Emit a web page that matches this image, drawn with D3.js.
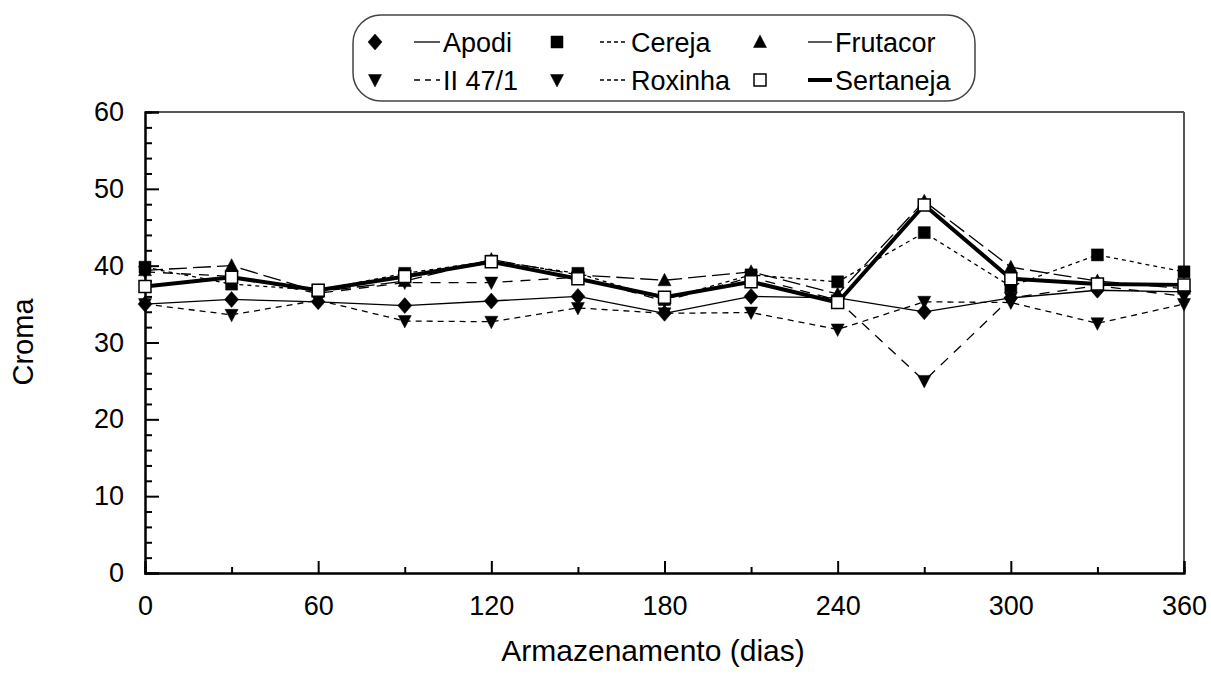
<!DOCTYPE html>
<html>
<head>
<meta charset="utf-8">
<script src="https://cdn.jsdelivr.net/npm/d3@7"></script>
<style>
  html, body { margin: 0; padding: 0; background: #fff; }
  svg { display: block; }
  text { font-family: "Liberation Sans", Arial, sans-serif; fill: #000; }
</style>
</head>
<body>
<svg id="chart" width="1211" height="675"></svg>
<script>
// Storage time (days)
const days = [0, 30, 60, 90, 120, 150, 180, 210, 240, 270, 300, 330, 360];

// Chroma per cultivar
const apodi     = [35.0, 35.6, 35.3, 34.8, 35.4, 36.0, 33.8, 36.0, 35.8, 34.0, 35.8, 36.8, 36.6];
const cereja    = [39.8, 37.6, 36.8, 39.0, 40.6, 39.0, 35.6, 38.8, 37.9, 44.3, 37.3, 41.4, 39.2];
const frutacor  = [39.4, 40.0, 36.6, 38.0, 40.8, 38.8, 38.1, 39.2, 36.3, 48.4, 39.8, 38.0, 37.0];
const ii471     = [39.2, 38.6, 36.4, 37.8, 37.8, 38.5, 35.4, 38.5, 35.5, 25.0, 35.8, 37.4, 36.0];
const roxinha   = [35.0, 33.6, 35.5, 32.8, 32.7, 34.5, 33.8, 33.9, 31.7, 35.3, 35.2, 32.5, 35.0];
const sertaneja = [37.3, 38.5, 36.8, 38.6, 40.5, 38.3, 35.9, 37.9, 35.2, 47.9, 38.3, 37.6, 37.5];

const seriesNames = ["Apodi", "Cereja", "Frutacor", "II 47/1", "Roxinha", "Sertaneja"];
const seriesValues = [apodi, cereja, frutacor, ii471, roxinha, sertaneja];

// Axis ticks
const yMajorTicks = [0, 10, 20, 30, 40, 50, 60];
const yMinorTicks = d3.range(0, 61, 2).filter(v => v % 10 !== 0);
const xMajorTicks = [0, 60, 120, 180, 240, 300, 360];
const xMinorTicks = [30, 90, 150, 210, 270, 330];

// Line / marker style per series
const styles = {
  "Apodi":     { dash: null,    legendDash: null,  width: 1.3, marker: "diamond", fill: "#000" },
  "Cereja":    { dash: "4,4",   legendDash: "4,3", width: 1.3, marker: "square",  fill: "#000" },
  "Frutacor":  { dash: "18,6",  legendDash: null,  width: 1.3, marker: "triUp",   fill: "#000" },
  "II 47/1":   { dash: "10,8",  legendDash: "6,5", width: 1.3, marker: "triDown", fill: "#000" },
  "Roxinha":   { dash: "6,5",   legendDash: "4,3", width: 1.3, marker: "triDown", fill: "#000" },
  "Sertaneja": { dash: null,    legendDash: null,  width: 4,   marker: "square",  fill: "#fff", open: true }
};

const svg = d3.select("#chart");
const plotLeft = 145, plotRight = 1184, plotTop = 112, plotBottom = 573;

const x = d3.scaleLinear().domain([0, 360]).range([plotLeft, plotRight]);
const y = d3.scaleLinear().domain([0, 60]).range([plotBottom, plotTop]);

// Frame (top and right edges)
svg.append("line").attr("x1", plotLeft).attr("x2", plotRight).attr("y1", plotTop).attr("y2", plotTop)
  .attr("stroke", "#555").attr("stroke-width", 2);
svg.append("line").attr("x1", plotRight).attr("x2", plotRight).attr("y1", plotTop).attr("y2", plotBottom)
  .attr("stroke", "#555").attr("stroke-width", 2);

// Axes with inward ticks
const yAxisMajor = d3.axisLeft(y).tickValues(yMajorTicks).tickSize(-14).tickPadding(21);
const yAxisMinor = d3.axisLeft(y).tickValues(yMinorTicks).tickSize(-7).tickFormat("");
const xAxisMajor = d3.axisBottom(x).tickValues(xMajorTicks).tickSize(-12).tickPadding(23);
const xAxisMinor = d3.axisBottom(x).tickValues(xMinorTicks).tickSize(-6).tickFormat("");

function styleAxis(g) {
  g.selectAll("path").attr("stroke", "#000").attr("stroke-width", 2);
  g.selectAll("line").attr("stroke", "#000").attr("stroke-width", 2);
  g.selectAll("text").attr("font-size", 27).attr("font-family", "Liberation Sans, Arial, sans-serif").attr("fill", "#000");
}

svg.append("g").attr("transform", `translate(${plotLeft},0)`).call(yAxisMinor).call(styleAxis);
svg.append("g").attr("transform", `translate(${plotLeft},0)`).call(yAxisMajor).call(styleAxis);
svg.append("g").attr("transform", `translate(0,${plotBottom})`).call(xAxisMinor).call(styleAxis);
svg.append("g").attr("transform", `translate(0,${plotBottom})`).call(xAxisMajor).call(styleAxis);

// Axis titles
svg.append("text")
  .attr("x", 653).attr("y", 661)
  .attr("text-anchor", "middle").attr("font-size", 30)
  .text("Armazenamento (dias)");
svg.append("text")
  .attr("transform", "translate(33,342) rotate(-90)")
  .attr("text-anchor", "middle").attr("font-size", 29)
  .text("Croma");

// Marker shapes
function markerPath(type) {
  switch (type) {
    case "diamond": return "M0,-8L7,0L0,8L-7,0Z";
    case "square":  return "M-6,-6L6,-6L6,6L-6,6Z";
    case "triUp":   return "M0,-7L6.5,5.5L-6.5,5.5Z";
    case "triDown": return "M0,7L6.5,-5.5L-6.5,-5.5Z";
  }
}

const line = d3.line().x((d, i) => x(days[i])).y(d => y(d));

// Lines
seriesNames.forEach((name, k) => {
  const s = styles[name];
  svg.append("path")
    .datum(seriesValues[k])
    .attr("d", line)
    .attr("fill", "none")
    .attr("stroke", "#000")
    .attr("stroke-width", s.width)
    .attr("stroke-dasharray", s.dash)
    .attr("stroke-linejoin", "miter");
});

// Markers
seriesNames.forEach((name, k) => {
  const s = styles[name];
  svg.append("g").selectAll("path")
    .data(seriesValues[k])
    .join("path")
    .attr("transform", (d, i) => `translate(${x(days[i])},${y(d)})`)
    .attr("d", markerPath(s.marker))
    .attr("fill", s.fill)
    .attr("stroke", "#000")
    .attr("stroke-width", s.open ? 1.5 : 0.5);
});

// Legend
const legend = svg.append("g");
legend.append("rect")
  .attr("x", 353).attr("y", 15).attr("width", 622).attr("height", 86)
  .attr("rx", 28).attr("ry", 28)
  .attr("fill", "#fff").attr("stroke", "#444").attr("stroke-width", 1.5);

const colSym = [375, 557, 760];
const colLine = [[414, 440], [600, 628], [808, 832]];
const rowY = [42, 80];

seriesNames.forEach((name, k) => {
  const s = styles[name];
  const col = k % 3, row = Math.floor(k / 3);
  const cy = rowY[row];
  legend.append("path")
    .attr("transform", `translate(${colSym[col]},${cy})`)
    .attr("d", markerPath(s.marker))
    .attr("fill", s.fill).attr("stroke", "#000").attr("stroke-width", s.open ? 1.5 : 0.5);
  legend.append("line")
    .attr("x1", colLine[col][0]).attr("x2", colLine[col][1])
    .attr("y1", cy).attr("y2", cy)
    .attr("stroke", "#000").attr("stroke-width", s.width)
    .attr("stroke-dasharray", s.legendDash);
  legend.append("text")
    .attr("x", colLine[col][1] + 3).attr("y", cy + 10)
    .attr("font-size", 27)
    .text(name);
});
</script>
</body>
</html>
